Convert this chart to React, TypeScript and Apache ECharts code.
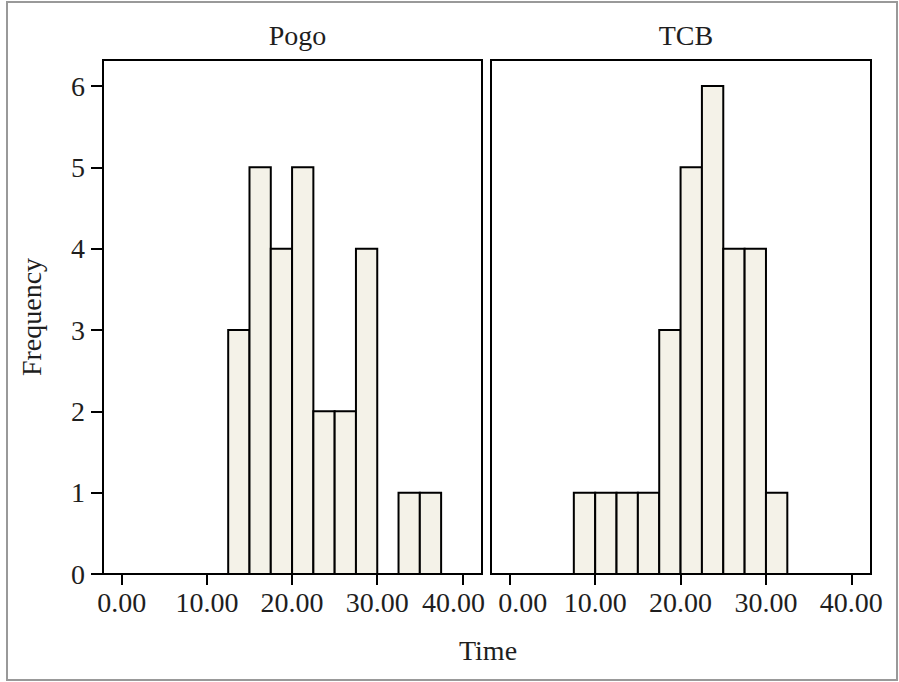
import React, { useEffect, useRef } from "react";
import * as echarts from "echarts";

const binEdges = [7.5, 10, 12.5, 15, 17.5, 20, 22.5, 25, 27.5, 30, 32.5, 35, 37.5];
const pogoCounts = [0, 0, 3, 5, 4, 5, 2, 2, 4, 0, 1, 1];
const tcbCounts = [1, 1, 1, 1, 3, 5, 6, 4, 4, 1, 0, 0];
const panelTitles = ["Pogo", "TCB"];
const xTicks = [0, 10, 20, 30, 40];
const yTicks = [0, 1, 2, 3, 4, 5, 6];

const FONT = "Liberation Serif";
const TXT = "#1e1e1e";
const FS = 28;

function toBins(counts: number[]) {
  return counts
    .map((c, i) => [binEdges[i], binEdges[i + 1], c])
    .filter((d) => d[2] > 0);
}

export default function App() {
  const ref = useRef<HTMLDivElement>(null);
  useEffect(() => {
    if (!ref.current) return;
    const chart = echarts.init(ref.current, null, { renderer: "svg" });
    const grids = [
      { left: 103, top: 60, width: 379, height: 514 },
      { left: 491, top: 60, width: 380, height: 514 },
    ];
    const renderItem = (params: any, api: any) => {
      const p0 = api.coord([api.value(0), api.value(2)]);
      const p1 = api.coord([api.value(1), 0]);
      return {
        type: "rect",
        shape: { x: p0[0], y: p0[1], width: p1[0] - p0[0], height: p1[1] - p0[1] },
        style: { fill: "#f4f2e8", stroke: "#000", lineWidth: 2 },
      };
    };
    const labelStyle = { fontFamily: FONT, fontSize: FS, color: TXT };
    const option: any = {
      animation: false,
      backgroundColor: "#fff",
      grid: grids.map((g) => ({
        ...g,
        show: true,
        borderColor: "#000",
        borderWidth: 2,
        backgroundColor: "transparent",
        containLabel: false,
      })),
      title: panelTitles.map((t, i) => ({
        text: t,
        left: grids[i].left + grids[i].width / 2,
        top: 16,
        textAlign: "center",
        textStyle: { fontFamily: FONT, fontSize: FS, fontWeight: "normal", color: TXT },
      })),
      xAxis: grids.map((g, i) => ({
        type: "value",
        gridIndex: i,
        min: -2.2,
        max: 42.3,
        splitLine: { show: false },
        axisLine: { show: true, onZero: false, lineStyle: { color: "#000", width: 2 } },
        axisTick: {
          show: true,
          customValues: xTicks,
          length: 11,
          lineStyle: { color: "#000", width: 2 },
        },
        axisLabel: {
          customValues: xTicks,
          formatter: (v: number) => {
            const s = v.toFixed(2);
            if (i === 0 && v === 40) return "{l|" + s + "}";
            if (i === 1 && v === 0) return "{r|" + s + "}";
            return "{n|" + s + "}";
          },
          ...labelStyle,
          margin: 14,
          rich: {
            n: { ...labelStyle },
            l: { ...labelStyle, padding: [0, 18, 0, 0] },
            r: { ...labelStyle, padding: [0, 0, 0, 26] },
          },
        },
      })),
      yAxis: grids.map((g, i) => ({
        type: "value",
        gridIndex: i,
        min: 0,
        max: 6.32,
        splitLine: { show: false },
        axisLine: { show: true, onZero: false, lineStyle: { color: "#000", width: 2 } },
        axisTick: {
          show: i === 0,
          customValues: yTicks,
          length: 12,
          lineStyle: { color: "#000", width: 2 },
        },
        axisLabel: {
          show: i === 0,
          customValues: yTicks,
          ...labelStyle,
          margin: 18,
        },
        name: i === 0 ? "Frequency" : "",
        nameLocation: "middle",
        nameRotate: 90,
        nameGap: 58,
        nameTextStyle: { ...labelStyle },
      })),
      graphic: [
        {
          type: "rect",
          shape: { x: 7, y: 2, width: 890, height: 678 },
          style: { fill: "none", stroke: "#999", lineWidth: 2 },
          silent: true,
        },
        {
          type: "text",
          x: 488,
          y: 650,
          style: {
            text: "Time",
            fontFamily: FONT,
            fontSize: FS,
            fill: TXT,
            align: "center",
            verticalAlign: "middle",
          },
        },
      ],
      series: [pogoCounts, tcbCounts].map((counts, i) => ({
        type: "custom",
        xAxisIndex: i,
        yAxisIndex: i,
        renderItem,
        encode: { x: [0, 1], y: 2 },
        data: toBins(counts),
      })),
    };
    chart.setOption(option);
    return () => chart.dispose();
  }, []);
  return (
    <div
      ref={ref}
      style={{ position: "fixed", left: 0, top: 0, width: 899, height: 682 }}
    />
  );
}
